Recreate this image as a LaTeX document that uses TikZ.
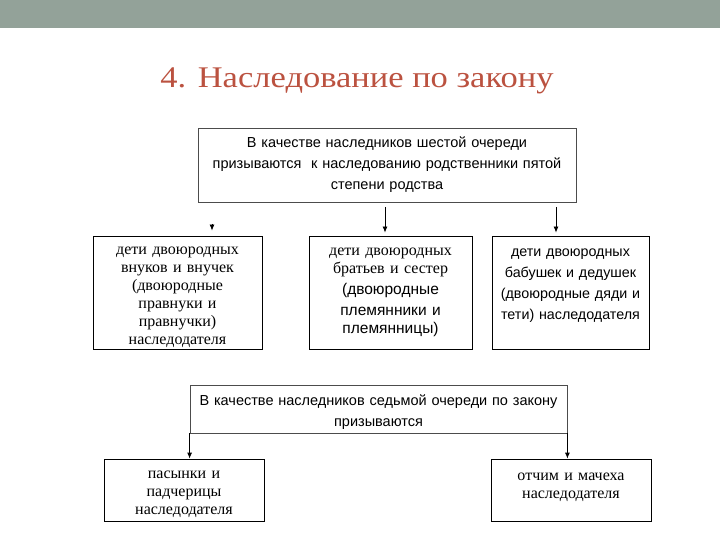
\documentclass[tikz,border=0pt]{standalone}
\usepackage{fontspec}
\setmainfont{Liberation Serif}
\setsansfont{Liberation Sans}
\newfontfamily\titlefont[FakeStretch=1.15]{Liberation Serif}
\usetikzlibrary{positioning}
\usetikzlibrary{arrows.meta}
\definecolor{band}{RGB}{147,162,153}
\definecolor{titlered}{RGB}{187,82,64}

\newcommand{\sanstxt}[1]{\sffamily\fontsize{#1}{21bp}\selectfont}
\newcommand{\seriftxt}{\rmfamily\fontsize{16bp}{18bp}\selectfont}
\newcommand{\lift}[1]{\rule[-#1]{0pt}{#1}}% deeper last line, text moves up
\newcommand{\drop}[1]{\rule{0pt}{#1}}% taller first line, text moves down

\begin{document}
\begin{tikzpicture}[x=1bp, y=-1bp, >={Latex[length=6bp,width=5bp]},
box/.style={draw=black, line width=0.8bp, inner sep=0pt, align=center, minimum width=#1, text width={#1-8bp}},
bigbox/.style={box=#1, draw=black!70},
arr/.style={->, line width=0.8bp}]

\useasboundingbox (0,0) rectangle (720,540);
\fill [band] (0,0) rectangle (720,28);

\node [anchor=base, text=titlered, font=\titlefont\fontsize{30bp}{36bp}\selectfont] (title) at (357,88) {4. Наследование по закону};

% sixth line
\node [bigbox=378bp, minimum height=74bp, font=\sanstxt{14.5bp}] (sixth) at (387,165)
{В качестве наследников шестой очереди\\ призываются~~к наследованию родственники пятой\\ степени родства};

\node [box=169bp, minimum height=113bp, font=\seriftxt] (grand) at (177.5,292.5)
{\drop{17bp}дети двоюродных\\ внуков и внучек\\ (двоюродные\\ правнуки и\\ правнучки)\\ наследодателя};

\node [box=163bp, minimum height=113bp, font=\seriftxt] (cousins) at (390.5,292.5)
{дети двоюродных\\ братьев и сестер\\ \sanstxt{15.5bp}(двоюродные\\ племянники и\\ племянницы)};

\node [box=157bp, minimum height=113bp, font=\sanstxt{14.3bp}] (uncles) at (570.5,292.5)
{дети двоюродных\\ бабушек и дедушек\\ (двоюродные дяди и\\ тети) наследодателя\lift{16bp}};

\coordinate (a1) at (212,224);
\coordinate (a2) at (385,202);
\coordinate (a3) at (556,202);
\draw [arr, shorten >=5bp] (a1) -- (a1 |- grand.north);
\draw [arr, shorten <=5bp, shorten >=3bp] (a2) -- (a2 |- cousins.north);
\draw [arr, shorten <=5bp, shorten >=3bp] (a3) -- (a3 |- uncles.north);

% seventh line
\node [bigbox=377bp, minimum height=48bp, font=\sanstxt{14.5bp}] (seventh) at (378.5,409)
{\drop{16.5bp}В качестве наследников седьмой очереди по закону\\ призываются};

\node [box=160bp, minimum height=62bp, font=\seriftxt] (stepkids) at (184,490)
{\drop{16bp}пасынки и\\ падчерицы\\ наследодателя};

\node [box=160bp, minimum height=62bp, font=\seriftxt] (stepparents) at (571,490)
{отчим и мачеха\\ наследодателя\lift{9.5bp}};

\draw [arr] (seventh.south west) -- (seventh.south west |- stepkids.north);
\draw [arr] (seventh.south east) -- (seventh.south east |- stepparents.north);
\end{tikzpicture}
\end{document}
